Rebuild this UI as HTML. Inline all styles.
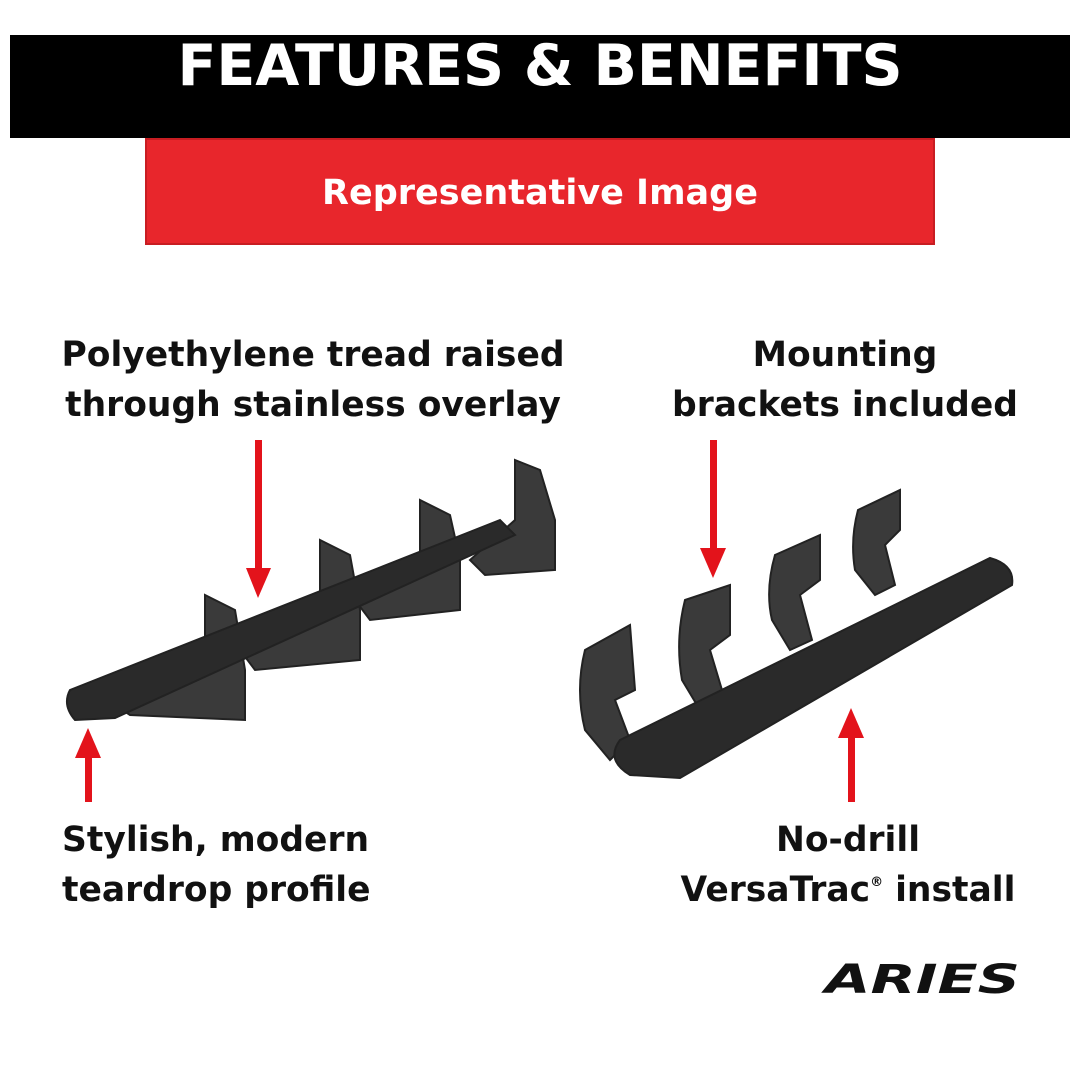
<!DOCTYPE html>
<html><head><style>
body{margin:0;width:1080px;height:1080px;background:#fff;position:relative;overflow:hidden;font-family:"DejaVu Sans","Liberation Sans",sans-serif;}
.t{position:absolute;font-weight:bold;color:#111;font-size:34.5px;line-height:50px;white-space:nowrap;}
</style></head><body>
<div style="position:absolute;left:10px;top:35px;width:1060px;height:103px;background:#000;"></div>
<div style="position:absolute;left:10px;top:33px;width:1060px;text-align:center;color:#fff;font-weight:bold;font-size:57px;line-height:66px;">FEATURES &amp; BENEFITS</div>
<div style="position:absolute;left:145px;top:138px;width:790px;height:107px;background:#e8262c;box-sizing:border-box;border:2px solid #c81d22;"></div>
<div style="position:absolute;left:145px;top:170px;width:790px;text-align:center;color:#fff;font-weight:bold;font-size:35px;line-height:46px;">Representative Image</div>
<div class="t" style="left:40px;width:546px;text-align:center;top:330px;">Polyethylene tread raised<br>through stainless overlay</div>
<div class="t" style="left:640px;width:410px;text-align:center;top:330px;">Mounting<br>brackets included</div>
<div class="t" style="left:62px;top:815px;">Stylish, modern<br>teardrop profile</div>
<div class="t" style="left:660px;width:376px;text-align:center;top:815px;">No-drill<br>VersaTrac<span style="font-size:13px;position:relative;top:-15px">®</span> install</div>
<svg width="1080" height="1080" style="position:absolute;left:0;top:0">
<g fill="#e3131b">
<rect x="255" y="440" width="7" height="130"/><polygon points="246,568 271,568 258,598"/>
<rect x="710" y="440" width="7" height="110"/><polygon points="700,548 726,548 713,578"/>
<rect x="85" y="755" width="7" height="47"/><polygon points="75,758 101,758 88,728"/>
<rect x="848" y="735" width="7" height="67"/><polygon points="838,738 864,738 851,708"/>
</g>
<g fill="#3a3a3a" stroke="#222" stroke-width="2">
<path d="M515,460 L540,470 L555,520 L555,570 L485,575 L470,560 L515,520 Z"/>
<path d="M420,500 L450,515 L460,560 L460,610 L370,620 L355,600 L420,560 Z"/>
<path d="M320,540 L350,555 L360,610 L360,660 L255,670 L240,650 L320,600 Z"/>
<path d="M205,595 L235,610 L245,670 L245,720 L130,715 L115,705 L205,660 Z"/>
<path d="M70,690 L500,520 L515,535 L115,718 L75,720 Q62,705 70,690 Z" fill="#2a2a2a"/>
<path d="M585,650 L630,625 L635,690 L615,700 L630,740 L610,760 L585,730 Q575,690 585,650Z"/>
<path d="M685,600 L730,585 L730,635 L710,650 L725,700 L700,710 L682,680 Q675,640 685,600Z"/>
<path d="M775,555 L820,535 L820,580 L800,595 L812,640 L790,650 L772,620 Q765,590 775,555Z"/>
<path d="M858,510 L900,490 L900,530 L885,545 L895,585 L875,595 L855,570 Q850,540 858,510Z"/>
<path d="M620,740 L990,558 Q1015,565 1012,585 L680,778 L630,775 Q605,760 620,740 Z" fill="#2a2a2a"/>
</g>
<text x="825" y="993" font-family="DejaVu Sans,sans-serif" font-weight="bold" font-style="italic" font-size="40" fill="#111" textLength="195" lengthAdjust="spacingAndGlyphs">ARIES</text>
</svg>
</body></html>
